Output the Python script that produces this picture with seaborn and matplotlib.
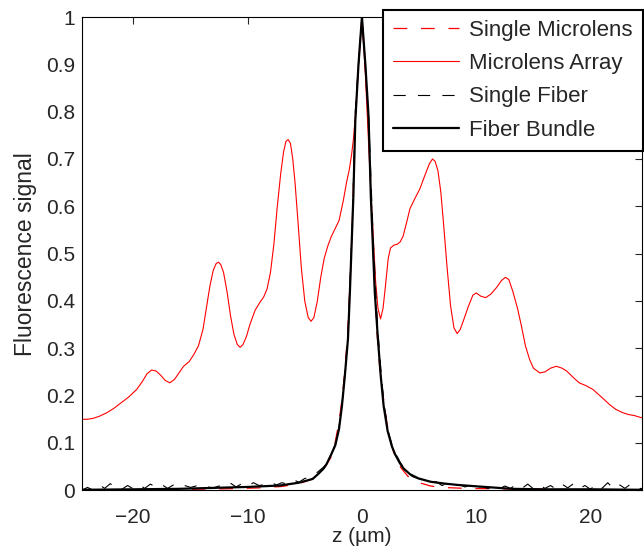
import numpy as np
import pandas as pd
import matplotlib
matplotlib.use("Agg")
import matplotlib.pyplot as plt
import seaborn as sns

# --- data --------------------------------------------------------------
array_z = [-24.5, -24.0, -23.5, -23.0, -22.3, -21.7, -21.1, -20.4, -19.7, -19.2,
           -18.8, -18.4, -18.0, -17.6, -17.2, -16.8, -16.4, -16.0, -15.6, -15.1,
           -14.7, -14.3, -13.9, -13.6, -13.3, -13.0, -12.75, -12.55, -12.35, -12.1,
           -11.8, -11.5, -11.2, -10.9, -10.65, -10.4, -10.1, -9.8, -9.35, -8.9,
           -8.6, -8.3, -8.0, -7.7, -7.4, -7.1, -6.85, -6.65, -6.46, -6.25,
           -6.05, -5.85, -5.6, -5.3, -5.0, -4.7, -4.45, -4.2, -3.9, -3.6,
           -3.3, -3.0, -2.7, -2.3, -2.0, -1.63, -1.35, -1.1, -0.9, -0.73,
           -0.55, -0.3, 0.0, 0.3, 0.55, 0.8, 1.0, 1.2, 1.4, 1.63,
           1.85, 2.05, 2.3, 2.5, 2.8, 3.1, 3.35, 3.6, 3.9, 4.2,
           4.6, 5.07, 5.5, 5.9, 6.17, 6.4, 6.65, 6.9, 7.15, 7.45,
           7.75, 8.05, 8.33, 8.6, 8.9, 9.3, 9.7, 10.0, 10.4, 10.83,
           11.3, 11.76, 12.2, 12.55, 12.85, 13.2, 13.6, 13.95, 14.3, 14.67,
           15.0, 15.55, 16.0, 16.5, 17.0, 17.5, 17.9, 18.5, 19.0, 19.6,
           20.2, 20.9, 21.66, 22.2, 22.8, 23.3, 23.8, 24.5]
array_sig = [0.150, 0.150, 0.152, 0.156, 0.164, 0.173, 0.184, 0.197, 0.213, 0.230,
             0.246, 0.254, 0.252, 0.243, 0.232, 0.227, 0.234, 0.248, 0.262, 0.272,
             0.287, 0.305, 0.340, 0.385, 0.431, 0.465, 0.479, 0.482, 0.477, 0.460,
             0.420, 0.370, 0.330, 0.308, 0.302, 0.308, 0.325, 0.350, 0.380, 0.398,
             0.408, 0.425, 0.460, 0.520, 0.600, 0.670, 0.715, 0.737, 0.741, 0.733,
             0.700, 0.650, 0.570, 0.470, 0.400, 0.365, 0.357, 0.365, 0.400, 0.450,
             0.490, 0.515, 0.535, 0.555, 0.570, 0.612, 0.650, 0.678, 0.710, 0.745,
             0.800, 0.900, 1.000, 0.880, 0.750, 0.620, 0.530, 0.440, 0.385, 0.362,
             0.385, 0.430, 0.490, 0.512, 0.518, 0.520, 0.525, 0.537, 0.565, 0.595,
             0.615, 0.637, 0.665, 0.690, 0.700, 0.695, 0.675, 0.630, 0.560, 0.470,
             0.390, 0.343, 0.331, 0.340, 0.360, 0.388, 0.412, 0.417, 0.410, 0.407,
             0.415, 0.428, 0.443, 0.450, 0.445, 0.420, 0.385, 0.347, 0.305, 0.276,
             0.258, 0.248, 0.250, 0.258, 0.262, 0.258, 0.252, 0.238, 0.227, 0.221,
             0.213, 0.198, 0.181, 0.171, 0.164, 0.160, 0.158, 0.153]

lens_z = [-24.5, -20, -15, -12, -9, -7, -5.5, -4.5, -3.8, -3.2,
          -2.7, -2.35, -2.0, -1.75, -1.5, -1.25, -1.0, -0.85, -0.6, -0.3,
          0.0, 0.3, 0.6, 0.9, 1.05, 1.3, 1.55, 1.85, 2.2, 2.55,
          2.9, 3.4, 4.0, 5.0, 6.0, 7.0, 9.0, 12.0, 16.0, 20.0, 24.5]
lens_sig = [0.001, 0.001, 0.002, 0.003, 0.005, 0.008, 0.014, 0.022, 0.034, 0.050,
            0.070, 0.100, 0.145, 0.190, 0.250, 0.330, 0.460, 0.560, 0.770, 0.900,
            1.000, 0.890, 0.760, 0.560, 0.470, 0.340, 0.260, 0.200, 0.140, 0.100,
            0.070, 0.048, 0.030, 0.016, 0.009, 0.006, 0.004, 0.003, 0.002, 0.001, 0.001]

fiber_z = [-24.5, -24, -23.5, -23, -22.5, -22, -21.5, -21, -20.5, -20,
           -19.5, -19, -18.5, -18, -17.5, -17, -16.5, -16, -15.5, -15,
           -14.5, -14, -13.5, -13, -12.5, -12, -11.5, -11, -10.5, -10,
           -9.5, -9, -8.5, -8, -7.5, -7, -6.5, -6, -5.5, -5,
           -4.5, -4, -3.4, -3.0, -2.6, -2.3, -2.0, -1.75, -1.5, -1.22,
           -0.93, -0.8, -0.58, -0.3, 0.0, 0.3, 0.6, 0.88, 1.03, 1.25,
           1.45, 1.7, 1.95, 2.3, 2.65, 3.0, 3.4, 4.0, 4.5, 5.0,
           5.5, 6.0, 6.5, 7.0, 7.5, 8.0, 8.5, 9.0, 9.5, 10.0,
           10.5, 11.0, 11.5, 12.0, 12.5, 13.0, 13.5, 14.0, 14.5, 15.0,
           15.5, 16.0, 16.5, 17.0, 17.5, 18.0, 18.5, 19.0, 19.5, 20.0,
           20.5, 21.0, 21.5, 22.0, 22.5, 23.0, 23.5, 24.0, 24.5]
fiber_sig = [0.000, 0.006, 0.000, 0.012, 0.004, 0.014, 0.003, 0.002, 0.010, 0.003,
             0.012, 0.004, 0.013, 0.006, 0.012, 0.004, 0.011, 0.005, 0.010, 0.006,
             0.009, 0.004, 0.007, 0.005, 0.009, 0.006, 0.015, 0.007, 0.014, 0.008,
             0.016, 0.010, 0.012, 0.018, 0.011, 0.016, 0.013, 0.022, 0.017, 0.025,
             0.026, 0.036, 0.048, 0.058, 0.080, 0.100, 0.135, 0.180, 0.245, 0.325,
             0.510, 0.600, 0.800, 0.900, 1.000, 0.900, 0.780, 0.600, 0.510, 0.400,
             0.320, 0.240, 0.180, 0.125, 0.094, 0.075, 0.057, 0.035, 0.028, 0.024,
             0.020, 0.016, 0.018, 0.010, 0.015, 0.011, 0.012, 0.007, 0.010, 0.005,
             0.008, 0.004, 0.007, 0.003, 0.009, 0.004, 0.012, 0.004, 0.013, 0.003,
             0.012, 0.004, 0.010, 0.002, 0.013, 0.005, 0.014, 0.003, 0.010, 0.002,
             0.014, 0.004, 0.016, 0.003, 0.012, 0.004, 0.013, 0.003, 0.004]

bundle_z = [-24.5, -20, -16, -13, -10, -7.2, -5.5, -4.3, -3.8, -3.35,
            -3.1, -2.7, -2.33, -2.0, -1.75, -1.5, -1.22, -1.05, -0.9, -0.75,
            -0.58, -0.3, 0.0, 0.3, 0.58, 0.78, 0.95, 1.12, 1.4, 1.65,
            1.9, 2.25, 2.62, 2.9, 3.3, 3.64, 4.2, 4.95, 6.0, 7.25,
            8.5, 10.2, 13.1, 16.0, 20.0, 24.5]
bundle_sig = [0.001, 0.002, 0.003, 0.005, 0.007, 0.010, 0.016, 0.024, 0.035, 0.046,
              0.055, 0.075, 0.095, 0.130, 0.178, 0.240, 0.320, 0.420, 0.520, 0.620,
              0.780, 0.900, 1.000, 0.900, 0.790, 0.620, 0.520, 0.420, 0.319, 0.240,
              0.178, 0.125, 0.093, 0.076, 0.058, 0.046, 0.034, 0.025, 0.018, 0.014,
              0.011, 0.008, 0.003, 0.002, 0.002, 0.001]

x_ticks = [-20, -10, 0, 10, 20]
y_ticks = [0, 0.1, 0.2, 0.3, 0.4, 0.5, 0.6, 0.7, 0.8, 0.9, 1]
y_tick_labels = ["0", "0.1", "0.2", "0.3", "0.4", "0.5", "0.6", "0.7", "0.8", "0.9", "1"]

sns.set_style("white")
plt.rcParams['font.family'] = ['Liberation Sans', 'DejaVu Sans']
plt.rcParams['font.size'] = 15

fig = plt.figure(figsize=(6.44, 5.49), dpi=100)
ax = fig.add_axes([0.127, 0.107, 0.870, 0.862])

sns.lineplot(x=lens_z, y=lens_sig, ax=ax, color='red', lw=0.9,
             linestyle=(0, (11, 11)), label='Single Microlens', sort=False)
sns.lineplot(x=array_z, y=array_sig, ax=ax, color='red', lw=0.8,
             label='Microlens Array', sort=False)
sns.lineplot(x=fiber_z, y=fiber_sig, ax=ax, color='black', lw=0.8,
             linestyle=(0, (11, 11)), label='Single Fiber', sort=False)
sns.lineplot(x=bundle_z, y=bundle_sig, ax=ax, color='black', lw=1.6,
             label='Fiber Bundle', sort=False)

ax.set_xlim(-24.5, 24.5)
ax.set_ylim(0, 1)
ax.set_xticks(x_ticks)
ax.set_yticks(y_ticks)
ax.set_yticklabels(y_tick_labels)
ax.tick_params(direction='in', length=5, width=0.8, top=True, right=True,
               labelsize=15, pad=5)
ax.tick_params(axis='x', pad=13)
ax.set_xlabel('z (µm)', labelpad=0, fontsize=15)
ax.set_ylabel('Fluorescence signal', labelpad=6, fontsize=16.5)
for s in ax.spines.values():
    s.set_visible(True)
    s.set_linewidth(0.8)
    s.set_color('black')

leg = ax.legend(loc='upper right', bbox_to_anchor=(0.998, 0.982),
                bbox_transform=fig.transFigure, fancybox=False, framealpha=1,
                edgecolor='black', handlelength=3.0, handletextpad=0.45,
                labelspacing=0.55, borderpad=0.45, borderaxespad=0, fontsize=16)
leg.get_frame().set_linewidth(1.5)

fig.savefig('out.png', dpi=100)
